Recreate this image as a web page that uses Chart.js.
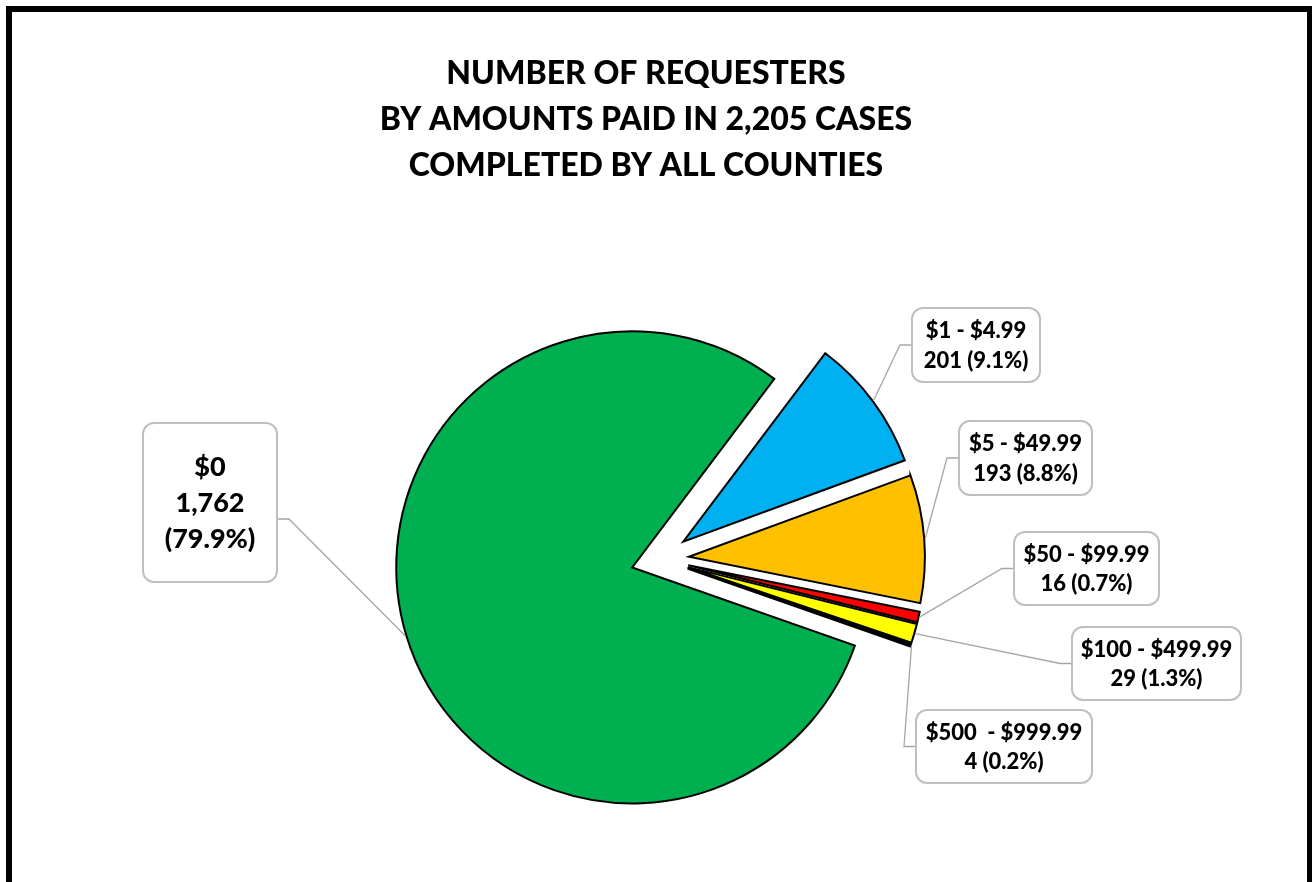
<!DOCTYPE html>
<html>
<head>
<meta charset="utf-8">
<title>Number of requesters by amounts paid</title>
<script src="https://cdn.jsdelivr.net/npm/chart.js@4.4.1/dist/chart.umd.min.js"></script>
<style>
  html, body { margin: 0; padding: 0; background: #fff; }
  #wrap { position: relative; width: 1312px; height: 882px; overflow: hidden; }
  #frame {
    position: absolute; left: 6px; top: 6px; right: 0; bottom: -20px;
    border: 6px solid #000; border-right-width: 5px; border-bottom: none;
    pointer-events: none;
  }
</style>
</head>
<body>
<div id="wrap">
  <canvas id="chart" width="1312" height="882"></canvas>
  <div id="frame"></div>
</div>
<script>
const titleLines = [
  "NUMBER OF REQUESTERS",
  "BY AMOUNTS PAID IN 2,205 CASES",
  "COMPLETED BY ALL COUNTIES",
];
const categories = ["$1 - $4.99", "$5 - $49.99", "$50 - $99.99", "$100 - $499.99", "$500  - $999.99", "$0"];
const requesters = [201, 193, 16, 29, 4, 1762];
const sliceColors = ["#00B0F0", "#FFC000", "#FF0000", "#FFFF00", "#000000", "#00B050"];

const total = requesters.reduce((sum, v) => sum + v, 0);
const EXPLODE = 29;

// callout boxes, same order as the categories
const callouts = [
  { x: 912, y: 308, w: 128, h: 74, side: "left" },
  { x: 959, y: 421, w: 133, h: 74, side: "left" },
  { x: 1014, y: 532, w: 145, h: 73, side: "left" },
  { x: 1072, y: 627, w: 169, h: 73, side: "left" },
  { x: 916, y: 710, w: 176, h: 73, side: "left" },
  { x: 143, y: 423, w: 134, h: 159, ly: 519, side: "right", big: true },
];

function calloutLines(i) {
  const count = requesters[i].toLocaleString("en-US");
  const pct = "(" + (requesters[i] / total * 100).toFixed(1) + "%)";
  if (callouts[i].big) return [categories[i], count, pct];
  return [categories[i], count + " " + pct];
}

// draws each slice pushed out along its middle angle
const explodePlugin = {
  id: "explode",
  beforeDatasetsDraw(chart) {
    const ctx = chart.ctx;
    chart.getDatasetMeta(0).data.forEach((arc) => {
      const mid = (arc.startAngle + arc.endAngle) / 2;
      ctx.save();
      ctx.translate(Math.cos(mid) * EXPLODE, Math.sin(mid) * EXPLODE);
      arc.draw(ctx);
      ctx.restore();
    });
    return false;
  },
};

const calloutPlugin = {
  id: "callouts",
  afterDraw(chart) {
    const ctx = chart.ctx;
    ctx.save();

    ctx.fillStyle = "#000";
    ctx.font = "900 32px Lato";
    ctx.textAlign = "center";
    ctx.textBaseline = "middle";
    titleLines.forEach((t, i) => ctx.fillText(t, 646, 74 + i * 46));

    chart.getDatasetMeta(0).data.forEach((arc, i) => {
      const c = callouts[i];
      const mid = (arc.startAngle + arc.endAngle) / 2;
      const r = EXPLODE + arc.outerRadius + 1;
      const ax = arc.x + Math.cos(mid) * r;
      const ay = arc.y + Math.sin(mid) * r;
      const ly = c.ly || c.y + c.h / 2;
      const bx = c.side === "left" ? c.x : c.x + c.w;
      const ex = c.side === "left" ? c.x - 12 : c.x + c.w + 12;

      ctx.strokeStyle = "#A6A6A6";
      ctx.lineWidth = 1.3;
      ctx.beginPath();
      ctx.moveTo(ax, ay);
      ctx.lineTo(ex, ly);
      ctx.lineTo(bx, ly);
      ctx.stroke();

      ctx.beginPath();
      ctx.roundRect(c.x, c.y, c.w, c.h, 11);
      ctx.fillStyle = "#fff";
      ctx.fill();
      ctx.strokeStyle = "#BFBFBF";
      ctx.lineWidth = 2;
      ctx.stroke();

      const lines = calloutLines(i);
      const lh = c.big ? 36 : 29.5;
      ctx.fillStyle = "#000";
      ctx.font = c.big ? "900 27px Lato" : "900 22px Lato";
      const cx = c.x + c.w / 2;
      const cy = c.y + c.h / 2 + 1;
      lines.forEach((t, k) => {
        ctx.fillText(t, cx, cy + (k - (lines.length - 1) / 2) * lh);
      });
    });

    ctx.restore();
  },
};

new Chart(document.getElementById("chart"), {
  type: "pie",
  data: {
    labels: categories,
    datasets: [{
      data: requesters,
      backgroundColor: sliceColors,
      borderColor: "#000",
      borderWidth: 2,
      borderJoinStyle: "miter",
    }],
  },
  options: {
    responsive: false,
    animation: false,
    rotation: 37,
    radius: 236,
    layout: { padding: { top: 300, bottom: 64, left: 200, right: 192 } },
    plugins: {
      legend: { display: false },
      title: { display: false },
      tooltip: { enabled: false },
    },
  },
  plugins: [explodePlugin, calloutPlugin],
});
</script>
</body>
</html>
